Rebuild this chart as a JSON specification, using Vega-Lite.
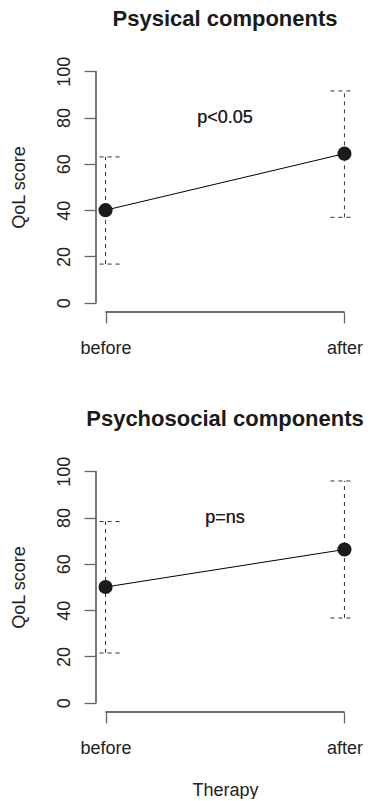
{
  "$schema": "https://vega.github.io/schema/vega-lite/v6.json",
  "padding": {"left": 10, "top": 8, "right": 0, "bottom": 0},
  "bounds": "flush",
  "spacing": 150,
  "config": {
    "view": {"stroke": null},
    "font": "Liberation Sans",
    "axis": {"grid": false, "domain": false, "tickColor": "#666666", "tickWidth": 1.3, "labelFontSize": 18, "labelColor": "#222222", "titleFontSize": 18, "titleFontWeight": "normal", "titleColor": "#222222", "labelFont": "Liberation Sans", "titleFont": "Liberation Sans"},
    "title": {"fontSize": 22, "fontWeight": "bold", "color": "#1a1a1a", "anchor": "middle", "frame": "group", "baseline": "alphabetic", "offset": 25, "font": "Liberation Sans"}
  },
  "vconcat": [
    {
      "title": "Psysical components",
      "width": 258,
      "height": 250,
      "data": {"values": [
        {"time": 1, "mean": 40, "lo": 16.7, "hi": 63},
        {"time": 2, "mean": 64.4, "lo": 36.9, "hi": 91.5}
      ]},
      "layer": [
        {"mark": {"type": "rule", "color": "#666666", "strokeWidth": 1.3},
         "encoding": {"x": {"datum": 0.96, "type": "quantitative"}, "y": {"datum": 0, "type": "quantitative"}, "y2": {"datum": 100}}},
        {"mark": {"type": "rule", "color": "#666666", "strokeWidth": 1.3},
         "encoding": {"x": {"datum": 1, "type": "quantitative"}, "x2": {"datum": 2}, "y": {"datum": -4, "type": "quantitative"}}},
        {"mark": {"type": "rule", "color": "#333333", "strokeWidth": 1, "strokeDash": [4, 4]},
         "encoding": {"x": {"field": "time", "type": "quantitative"}, "y": {"field": "lo", "type": "quantitative"}, "y2": {"field": "hi"}}},
        {"mark": {"type": "rule", "color": "#333333", "strokeWidth": 1, "strokeDash": [4, 4], "xOffset": -14, "x2Offset": 14, "clip": true},
         "encoding": {"x": {"field": "time", "type": "quantitative"}, "x2": {"field": "time"}, "y": {"field": "hi", "type": "quantitative"}}},
        {"mark": {"type": "rule", "color": "#333333", "strokeWidth": 1, "strokeDash": [4, 4], "xOffset": -14, "x2Offset": 14, "clip": true},
         "encoding": {"x": {"field": "time", "type": "quantitative"}, "x2": {"field": "time"}, "y": {"field": "lo", "type": "quantitative"}}},
        {"mark": {"type": "line", "color": "#000000", "strokeWidth": 1},
         "encoding": {"x": {"field": "time", "type": "quantitative"}, "y": {"field": "mean", "type": "quantitative"}}},
        {"mark": {"type": "circle", "size": 200, "color": "#1a1a1a", "opacity": 1},
         "encoding": {
           "x": {"field": "time", "type": "quantitative",
                 "scale": {"domain": [0.96, 2.04], "nice": false, "zero": false},
                 "axis": {"values": [1, 2], "labelExpr": "datum.value == 1 ? 'before' : 'after'", "tickSize": 11, "labelPadding": 30, "labelBaseline": "alphabetic", "labelAlign": "center", "title": null}},
           "y": {"field": "mean", "type": "quantitative",
                 "scale": {"domain": [-4, 104], "nice": false, "zero": false},
                 "axis": {"values": [0, 20, 40, 60, 80, 100], "tickSize": 12, "labelAngle": 270, "labelAlign": "center", "labelBaseline": "alphabetic", "labelPadding": 15, "title": "QoL score", "titleAngle": 270, "titleAlign": "center", "titleBaseline": "alphabetic", "titleX": -72, "titleY": 125}}
         }},
        {"mark": {"type": "text", "text": "p<0.05", "fontSize": 18, "color": "#222222", "baseline": "middle", "align": "center"},
         "encoding": {"x": {"datum": 1.5, "type": "quantitative"}, "y": {"datum": 80, "type": "quantitative"}}}
      ]
    },
    {
      "title": "Psychosocial components",
      "width": 258,
      "height": 250,
      "data": {"values": [
        {"time": 1, "mean": 50, "lo": 21.5, "hi": 78.3},
        {"time": 2, "mean": 66.2, "lo": 36.6, "hi": 95.8}
      ]},
      "layer": [
        {"mark": {"type": "rule", "color": "#666666", "strokeWidth": 1.3},
         "encoding": {"x": {"datum": 0.96, "type": "quantitative"}, "y": {"datum": 0, "type": "quantitative"}, "y2": {"datum": 100}}},
        {"mark": {"type": "rule", "color": "#666666", "strokeWidth": 1.3},
         "encoding": {"x": {"datum": 1, "type": "quantitative"}, "x2": {"datum": 2}, "y": {"datum": -4, "type": "quantitative"}}},
        {"mark": {"type": "rule", "color": "#333333", "strokeWidth": 1, "strokeDash": [4, 4]},
         "encoding": {"x": {"field": "time", "type": "quantitative"}, "y": {"field": "lo", "type": "quantitative"}, "y2": {"field": "hi"}}},
        {"mark": {"type": "rule", "color": "#333333", "strokeWidth": 1, "strokeDash": [4, 4], "xOffset": -14, "x2Offset": 14, "clip": true},
         "encoding": {"x": {"field": "time", "type": "quantitative"}, "x2": {"field": "time"}, "y": {"field": "hi", "type": "quantitative"}}},
        {"mark": {"type": "rule", "color": "#333333", "strokeWidth": 1, "strokeDash": [4, 4], "xOffset": -14, "x2Offset": 14, "clip": true},
         "encoding": {"x": {"field": "time", "type": "quantitative"}, "x2": {"field": "time"}, "y": {"field": "lo", "type": "quantitative"}}},
        {"mark": {"type": "line", "color": "#000000", "strokeWidth": 1},
         "encoding": {"x": {"field": "time", "type": "quantitative"}, "y": {"field": "mean", "type": "quantitative"}}},
        {"mark": {"type": "circle", "size": 200, "color": "#1a1a1a", "opacity": 1},
         "encoding": {
           "x": {"field": "time", "type": "quantitative",
                 "scale": {"domain": [0.96, 2.04], "nice": false, "zero": false},
                 "axis": {"values": [1, 2], "labelExpr": "datum.value == 1 ? 'before' : 'after'", "tickSize": 11, "labelPadding": 30, "labelBaseline": "alphabetic", "labelAlign": "center", "title": "Therapy", "titleBaseline": "alphabetic", "titleX": 129, "titleY": 83}},
           "y": {"field": "mean", "type": "quantitative",
                 "scale": {"domain": [-4, 104], "nice": false, "zero": false},
                 "axis": {"values": [0, 20, 40, 60, 80, 100], "tickSize": 12, "labelAngle": 270, "labelAlign": "center", "labelBaseline": "alphabetic", "labelPadding": 15, "title": "QoL score", "titleAngle": 270, "titleAlign": "center", "titleBaseline": "alphabetic", "titleX": -72, "titleY": 125}}
         }},
        {"mark": {"type": "text", "text": "p=ns", "fontSize": 18, "color": "#222222", "baseline": "middle", "align": "center"},
         "encoding": {"x": {"datum": 1.5, "type": "quantitative"}, "y": {"datum": 80, "type": "quantitative"}}}
      ]
    }
  ]
}
